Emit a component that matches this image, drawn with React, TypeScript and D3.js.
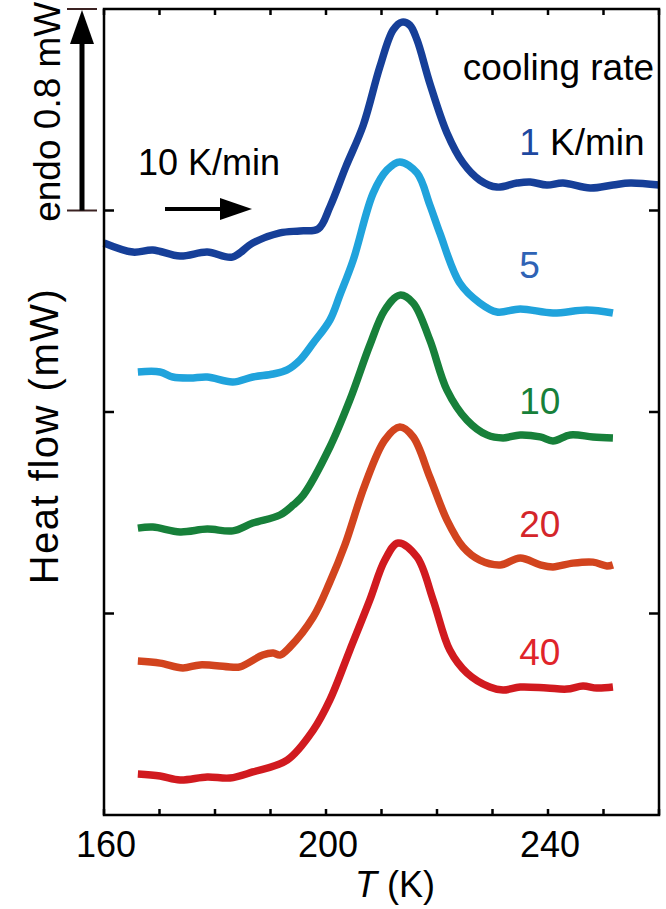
import React from 'react';
import * as d3 from 'd3';

// Temperature (K) and heat flow (mW, offset traces)
const T_1 = [160.0, 165.2, 168.8, 173.7, 178.6, 183.1, 186.8, 191.7, 195.3, 198.6, 200.7, 203.6, 206.7, 209.7, 212.1, 213.7, 215.1, 216.4, 218.7, 221.8, 224.7, 227.7, 230.8, 234.4, 236.8, 239.8, 242.7, 247.6, 251.7, 254.8, 260.0];
const H_1 = [2.271, 2.235, 2.243, 2.219, 2.235, 2.215, 2.271, 2.311, 2.319, 2.327, 2.414, 2.575, 2.738, 2.970, 3.117, 3.148, 3.136, 3.077, 2.906, 2.708, 2.589, 2.521, 2.493, 2.509, 2.513, 2.501, 2.509, 2.489, 2.501, 2.509, 2.501];

const T_5 = [166.1, 170.1, 172.4, 175.5, 178.6, 183.2, 186.8, 190.5, 193.0, 195.3, 197.7, 200.7, 202.5, 204.9, 208.5, 211.0, 213.3, 216.4, 218.7, 220.5, 224.1, 227.7, 230.8, 235.0, 240.9, 247.0, 251.7];
const H_5 = [1.759, 1.759, 1.739, 1.735, 1.739, 1.719, 1.739, 1.751, 1.767, 1.806, 1.874, 1.965, 2.064, 2.203, 2.469, 2.561, 2.593, 2.549, 2.422, 2.311, 2.112, 2.033, 1.997, 2.009, 1.993, 2.005, 1.993];

const T_10 = [166.1, 168.8, 173.7, 178.6, 183.2, 186.8, 191.7, 194.1, 195.9, 200.7, 204.3, 207.9, 210.6, 213.3, 215.7, 218.7, 221.8, 225.4, 229.0, 231.9, 235.0, 238.6, 240.9, 244.0, 248.1, 251.7];
const H_10 = [1.139, 1.143, 1.124, 1.135, 1.128, 1.159, 1.191, 1.231, 1.270, 1.461, 1.648, 1.866, 2.005, 2.064, 2.033, 1.886, 1.687, 1.568, 1.509, 1.497, 1.509, 1.501, 1.485, 1.509, 1.501, 1.497];

const T_20 = [166.1, 170.1, 174.2, 177.3, 182.7, 184.5, 188.6, 190.5, 191.7, 193.5, 197.7, 200.7, 203.4, 207.0, 210.6, 213.3, 215.7, 218.7, 221.8, 224.7, 227.7, 231.4, 235.0, 238.6, 240.9, 244.5, 248.1, 250.6, 251.7];
const H_20 = [0.611, 0.603, 0.584, 0.596, 0.588, 0.588, 0.635, 0.643, 0.635, 0.667, 0.786, 0.925, 1.072, 1.310, 1.489, 1.540, 1.501, 1.342, 1.171, 1.064, 1.012, 0.993, 1.020, 0.993, 0.985, 1.000, 1.004, 0.989, 0.993];

const T_40 = [166.1, 170.1, 173.7, 178.6, 182.7, 186.8, 193.0, 197.7, 200.7, 204.3, 207.9, 210.6, 213.0, 216.4, 219.3, 222.3, 225.4, 229.5, 231.9, 235.0, 239.8, 243.4, 246.3, 248.8, 251.7];
const H_40 = [0.163, 0.155, 0.139, 0.151, 0.147, 0.171, 0.218, 0.337, 0.457, 0.655, 0.854, 1.012, 1.080, 1.024, 0.854, 0.655, 0.564, 0.508, 0.496, 0.508, 0.504, 0.500, 0.512, 0.504, 0.508];

const rateLabels = ['1', '5', '10', '20', '40'];
const lineColors = ['#163f98', '#20a3dc', '#17803a', '#d2441e', '#d11a1f'];
const labelColors = ['#1e48a0', '#2f63b5', '#17803a', '#d4252a', '#e0242a'];
const labelY = [2.62, 2.131, 1.594, 1.105, 0.596]; // baseline positions (mW) of rate labels
const labelT = 234.8;

const xTicks = [160, 170, 180, 190, 200, 210, 220, 230, 240, 250, 260];
const xTickLabels = [160, 200, 240];
const yTicks = [0.8, 1.6, 2.4];
const scaleBar = [2.4, 3.2];

const FONT = "'Liberation Sans', Arial, Helvetica, sans-serif";

export default function App() {
  const W = 666, H = 909;
  const x = d3.scaleLinear().domain([160, 260]).range([104, 659]);
  const y = d3.scaleLinear().domain([0, 3.2]).range([815, 9]);

  const series = [
    [T_1, H_1], [T_5, H_5], [T_10, H_10], [T_20, H_20], [T_40, H_40],
  ].map(([ts, hs]) => ts.map((t, i) => [t, hs[i]] as [number, number]));

  const line = d3.line<[number, number]>()
    .x(d => x(d[0]))
    .y(d => y(d[1]))
    .curve(d3.curveCatmullRom.alpha(0.5));

  const x0 = x.range()[0], x1 = x.range()[1];
  const y0 = y.range()[0], y1 = y.range()[1];
  const sbX = 82;
  const sbBottom = y(scaleBar[0]);
  const sbTop = y(scaleBar[1]);

  return (
    <svg width={W} height={H} style={{ position: 'absolute', left: 0, top: 0, background: '#fff' }}
      fontFamily={FONT}>
      <rect x={0} y={0} width={W} height={H} fill="#fff" />
      {/* curves */}
      {series.map((s, i) => (
        <path key={i} d={line(s) || ''} fill="none" stroke={lineColors[i]} strokeWidth={7.5}
          strokeLinejoin="round" strokeLinecap="butt" />
      ))}
      {/* frame */}
      <rect x={x0} y={y1} width={x1 - x0} height={y0 - y1} fill="none" stroke="#000" strokeWidth={2.5} />
      {xTicks.map(t => (
        <g key={t}>
          <line x1={x(t)} x2={x(t)} y1={y0} y2={y0 - 6} stroke="#000" strokeWidth={2.5} />
          <line x1={x(t)} x2={x(t)} y1={y1} y2={y1 + 6} stroke="#000" strokeWidth={2.5} />
        </g>
      ))}
      {yTicks.map(v => (
        <g key={v}>
          <line x1={x0} x2={x0 + 10} y1={y(v)} y2={y(v)} stroke="#000" strokeWidth={2.5} />
          <line x1={x1} x2={x1 - 10} y1={y(v)} y2={y(v)} stroke="#000" strokeWidth={2.5} />
        </g>
      ))}
      {xTickLabels.map(t => (
        <text key={t} x={x(t) + 2} y={857} fontSize={36} textAnchor="middle" fill="#000">{t}</text>
      ))}
      <text x={395} y={897} fontSize={36} textAnchor="middle" fill="#000">
        <tspan fontStyle="italic">T</tspan> (K)
      </text>
      <text transform={`translate(58,436) rotate(-90)`} fontSize={40} letterSpacing={1.5} textAnchor="middle" fill="#000">
        Heat flow (mW)
      </text>
      {/* scale bar */}
      <line x1={67} x2={97} y1={sbTop} y2={sbTop} stroke="#3b2222" strokeWidth={2} />
      <line x1={67} x2={97} y1={sbBottom} y2={sbBottom} stroke="#3b2222" strokeWidth={2} />
      <line x1={sbX} x2={sbX} y1={sbBottom} y2={sbTop + 30} stroke="#000" strokeWidth={5} />
      <path d={`M${sbX},${sbTop + 1} L${sbX - 12},${sbTop + 35} L${sbX + 12},${sbTop + 35} Z`} fill="#000" />
      <text transform={`translate(60,${(sbTop + sbBottom) / 2 + 2}) rotate(-90)`} fontSize={37} textAnchor="middle" fill="#000">
        endo 0.8 mW
      </text>
      {/* heating direction */}
      <text x={138} y={175} fontSize={36} fill="#000">10 K/min</text>
      <line x1={165} x2={224} y1={209} y2={209} stroke="#000" strokeWidth={4} />
      <path d="M220,198 L252,209 L220,220 Z" fill="#000" />
      {/* legend labels */}
      <text x={654} y={80} fontSize={37} textAnchor="end" fill="#000">cooling rate</text>
      {rateLabels.map((r, i) => (
        <text key={r} x={x(labelT)} y={y(labelY[i])} fontSize={37} fill={labelColors[i]}>
          {r}
          {i === 0 ? <tspan fill="#000"> K/min</tspan> : null}
        </text>
      ))}
    </svg>
  );
}
